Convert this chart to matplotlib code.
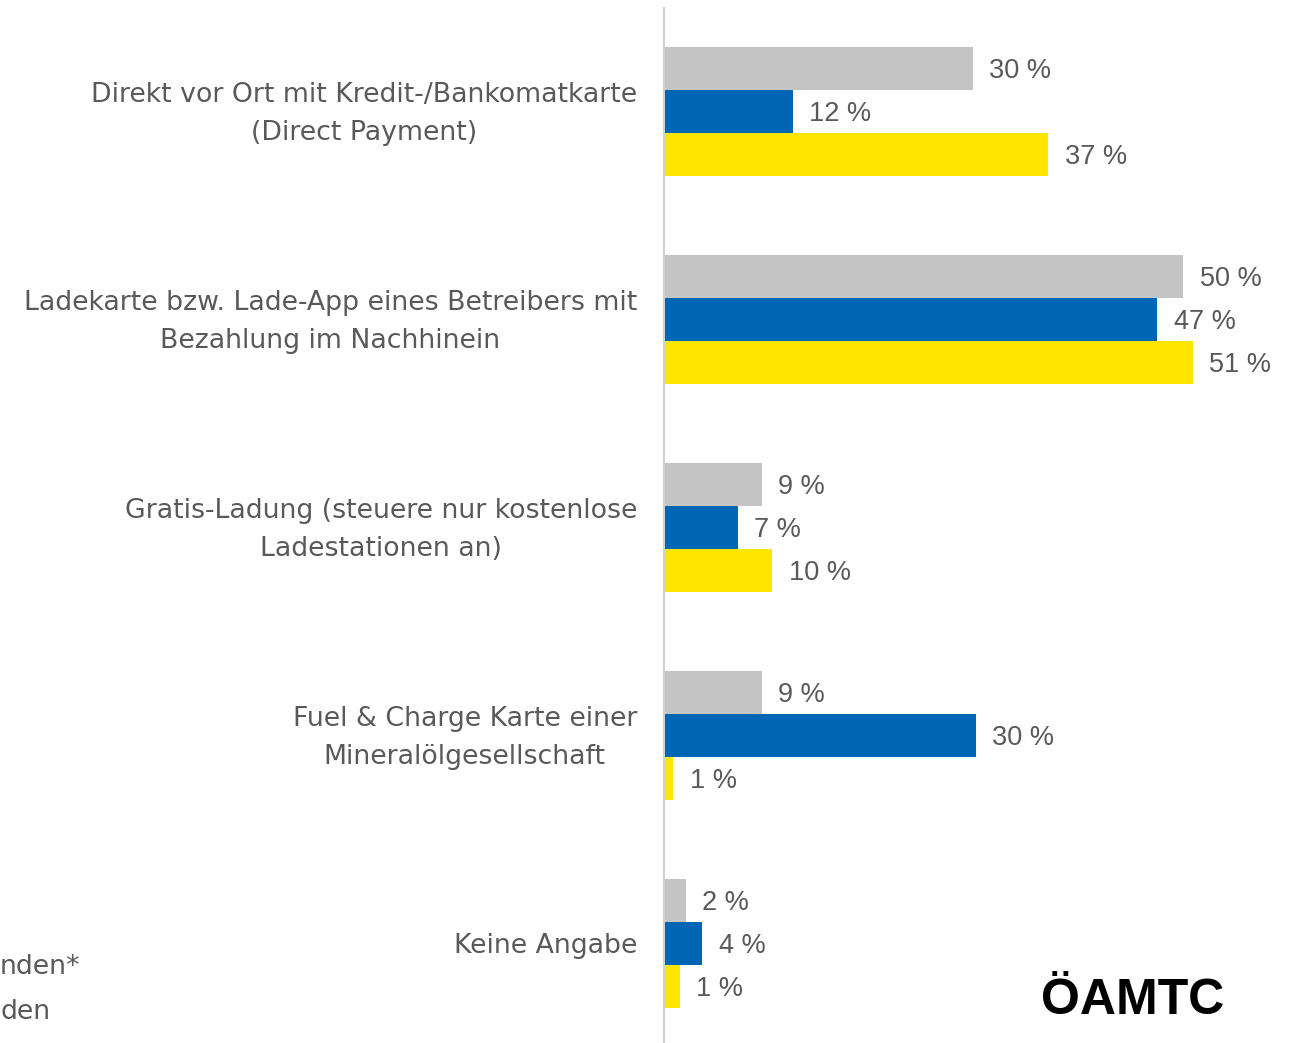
import matplotlib.pyplot as plt
import numpy as np

categories = [
    "Direkt vor Ort mit Kredit-/Bankomatkarte\n(Direct Payment)",
    "Ladekarte bzw. Lade-App eines Betreibers mit\nBezahlung im Nachhinein",
    "Gratis-Ladung (steuere nur kostenlose\nLadestationen an)",
    "Fuel & Charge Karte einer\nMineralölgesellschaft",
    "Keine Angabe",
]
# unrounded shares; labels show the rounded value
grey_vals = [29.6, 49.9, 9.3, 9.3, 2.0]
blue_vals = [12.3, 47.4, 7.0, 29.9, 3.6]
yellow_vals = [36.9, 50.8, 10.3, 0.8, 1.4]

colors = ["#C4C4C4", "#0066B3", "#FFE500"]
txt = "#595959"
lab_font = ['DejaVu Sans']
plt.rcParams['font.family'] = ['Liberation Sans', 'DejaVu Sans']

W, H = 1301, 1043
fig = plt.figure(figsize=(W / 100, H / 100), dpi=100)
# axes: left edge at the axis line, spans almost full height
ax = fig.add_axes([665 / W, 0, 620 / W, 1 - 8 / H])

pitch = 208.0
y0 = (1043 - 111.5) / pitch
y1 = -(111.5 - 8) / pitch
ax.set_ylim(y0, y1)
ax.set_xlim(0, 620 / 10.39)

h = 43 / pitch
y = np.arange(len(categories))
for k, vals in enumerate([grey_vals, blue_vals, yellow_vals]):
    pos = y + (k - 1) * h
    ax.barh(pos, vals, height=h, color=colors[k], edgecolor='none')
    for p, v in zip(pos, vals):
        ax.text(v + 1.6, p + 0.012, f"{v:.0f} %", va='center', ha='left',
                fontsize=19.5, color=txt)

for i, c in enumerate(categories):
    ax.text(-2.7, i + 0.012, c, ha='right', va='center', fontsize=19.3, color=txt,
            family=lab_font, multialignment='center', linespacing=1.62,
            clip_on=False)

for s in ['top', 'right', 'bottom']:
    ax.spines[s].set_visible(False)
ax.spines['left'].set_color('#D0D0D0')
ax.spines['left'].set_linewidth(1.5)
ax.spines['left'].set_position(('outward', 1))
ax.set_xticks([])
ax.set_yticks([])

# cut-off legend text at the lower left
fig.text(0, 1 - 967 / H, "nden*", ha='left', va='center', fontsize=19.3,
         color=txt, family=lab_font)
fig.text(0, 1 - 1012 / H, "den", ha='left', va='center', fontsize=19.3,
         color=txt, family=lab_font)

# logo
fig.text(1133 / W, 1 - 1001 / H, "ÖAMTC", ha='center', va='center', fontsize=36,
         fontweight='heavy', color='black')

fig.savefig("out.png", dpi=100)
